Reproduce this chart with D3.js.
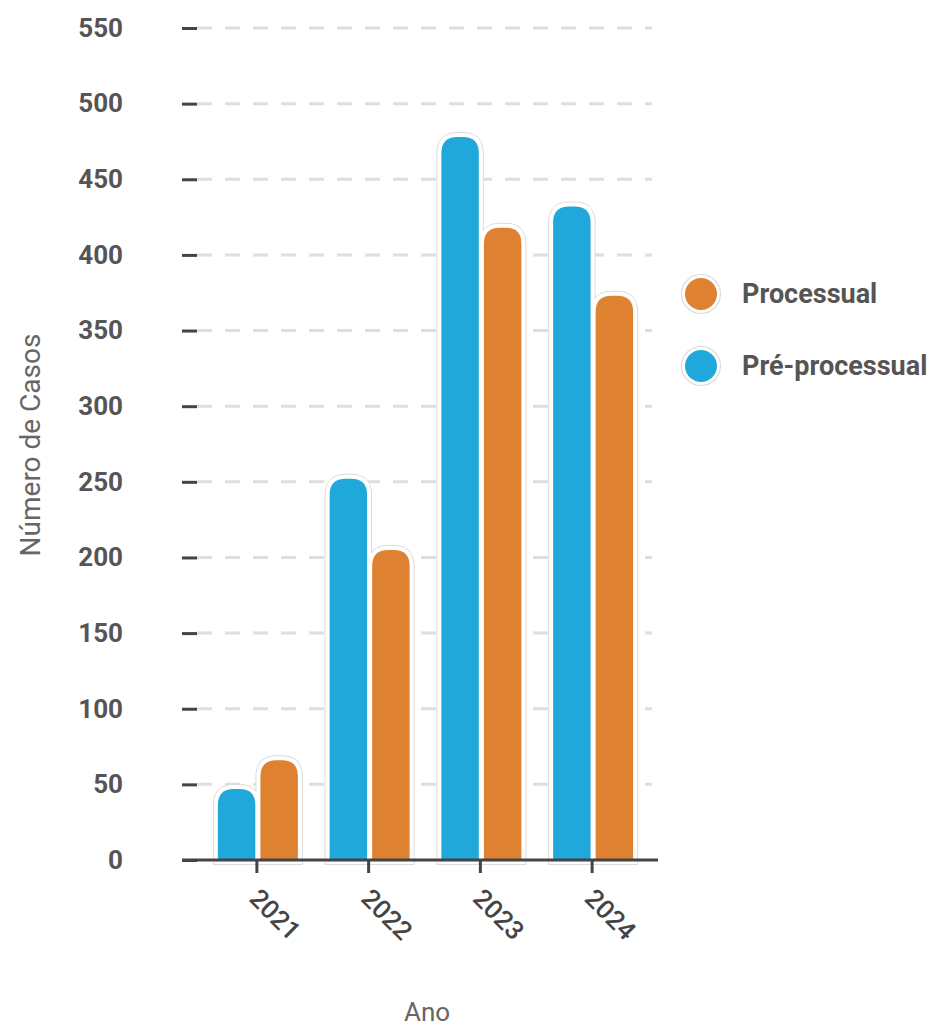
<!DOCTYPE html>
<html>
<head>
<meta charset="utf-8">
<script src="https://cdn.jsdelivr.net/npm/d3@7"></script>
<style>
  html, body { margin: 0; padding: 0; background: #fff; }
  svg { display: block; font-family: Roboto, "Noto Sans", sans-serif; }
</style>
</head>
<body>
<svg id="chart" width="935" height="1027"></svg>
<script>
// Casos por ano e tipo
const years = ["2021", "2022", "2023", "2024"];
const preProcessual = [47, 252, 478, 432];
const processual = [66, 205, 418, 373];
const yTicks = [0, 50, 100, 150, 200, 250, 300, 350, 400, 450, 500, 550];
const seriesNames = ["Pré-processual", "Processual"];
const seriesColors = ["#1fa8d9", "#de8130"];
const legendOrder = ["Processual", "Pré-processual"];

const svg = d3.select("#chart");

const x = d3.scaleBand().domain(years).range([201, 648]).padding(0);
const y = d3.scaleLinear().domain([0, 550]).range([860, 28]);
const inner = d3.scaleBand().domain(seriesNames).range([-39, 41]).paddingInner(0.12);

// Grelha horizontal tracejada
svg.append("g").selectAll("line").data(yTicks.filter(d => d > 0)).join("line")
  .attr("x1", 197).attr("x2", 652)
  .attr("y1", d => y(d)).attr("y2", d => y(d))
  .attr("stroke", "#dedede").attr("stroke-width", 3)
  .attr("stroke-dasharray", "15 13");

// Eixo Y
const yAxis = svg.append("g").attr("transform", "translate(197,0)")
  .call(d3.axisLeft(y).tickValues(yTicks).tickSize(15).tickPadding(59));
yAxis.select(".domain").remove();
yAxis.selectAll(".tick line").attr("stroke", "#444").attr("stroke-width", 3);
yAxis.selectAll(".tick text")
  .attr("fill", "#555").attr("font-size", 26).attr("font-weight", 700)
  .attr("font-family", "Roboto, sans-serif");

// Barras com cantos superiores arredondados
function barPath(x0, w, yTop, yBase, r) {
  const rr = Math.min(r, w / 2, (yBase - yTop));
  return `M${x0},${yBase}V${yTop + rr}Q${x0},${yTop} ${x0 + rr},${yTop}` +
         `H${x0 + w - rr}Q${x0 + w},${yTop} ${x0 + w},${yTop + rr}V${yBase}Z`;
}

const rows = years.map((yr, i) => ({
  year: yr,
  values: [
    { key: seriesNames[0], value: preProcessual[i], color: seriesColors[0] },
    { key: seriesNames[1], value: processual[i], color: seriesColors[1] }
  ]
}));

const groups = svg.append("g").selectAll("g").data(rows).join("g")
  .attr("transform", d => `translate(${x(d.year) + x.bandwidth() / 2},0)`);

const pathOf = d => barPath(inner(d.key), inner.bandwidth(), y(d.value), y(0), 16);

groups.selectAll("path.halo").data(d => d.values).join("path")
  .attr("class", "halo").attr("d", pathOf)
  .attr("fill", "none").attr("stroke", "#dcdcdc").attr("stroke-width", 10);
groups.selectAll("path.edge").data(d => d.values).join("path")
  .attr("class", "edge").attr("d", pathOf)
  .attr("fill", "#fff").attr("stroke", "#fff").attr("stroke-width", 8);
groups.selectAll("path.bar").data(d => d.values).join("path")
  .attr("class", "bar").attr("d", pathOf)
  .attr("fill", d => d.color);

// Eixo X
const xAxis = svg.append("g").attr("transform", "translate(0,860)")
  .call(d3.axisBottom(x).tickSize(13).tickSizeOuter(0));
xAxis.select(".domain").attr("d", "M182,0H658").attr("stroke", "#444").attr("stroke-width", 3);
xAxis.selectAll(".tick line").attr("stroke", "#444").attr("stroke-width", 3);
xAxis.selectAll(".tick text")
  .attr("fill", "#444").attr("font-size", 26).attr("font-weight", 500)
  .attr("font-family", "Roboto, sans-serif")
  .attr("text-anchor", "start")
  .attr("x", 0).attr("y", 0).attr("dy", 0)
  .attr("transform", "translate(-9,40) rotate(45)");

// Títulos dos eixos
svg.append("text")
  .attr("transform", "translate(40,445) rotate(-90)")
  .attr("text-anchor", "middle").attr("fill", "#666").attr("font-size", 28)
  .text("Número de Casos");
svg.append("text")
  .attr("x", 427).attr("y", 1021)
  .attr("text-anchor", "middle").attr("fill", "#666").attr("font-size", 26)
  .text("Ano");

// Legenda
const colorOf = k => seriesColors[seriesNames.indexOf(k)];
const legend = svg.append("g").selectAll("g").data(legendOrder).join("g")
  .attr("transform", (d, i) => `translate(701,${294 + i * 72})`);
legend.append("circle").attr("r", 19.5).attr("fill", "#fff").attr("stroke", "#dcdcdc").attr("stroke-width", 1.2);
legend.append("circle").attr("r", 16).attr("fill", d => colorOf(d));
legend.append("text").attr("x", 41).attr("dy", "0.35em")
  .attr("fill", "#555").attr("font-size", 27).attr("font-weight", 700)
  .text(d => d);
</script>
</body>
</html>
